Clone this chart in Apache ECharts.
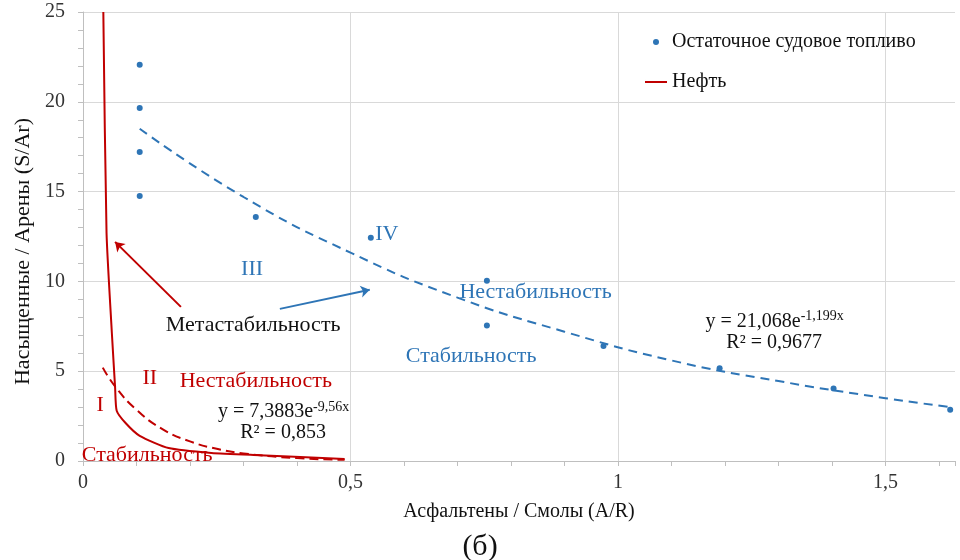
<!DOCTYPE html>
<html>
<head>
<meta charset="utf-8">
<script src="https://cdn.jsdelivr.net/npm/echarts@6/dist/echarts.min.js"></script>
<style>html,body{margin:0;padding:0;background:#fff}#c{width:960px;height:560px}</style>
</head>
<body>
<div id="c"></div>
<script>
// ---- data ----
const fuelX = [0.106, 0.106, 0.106, 0.106, 0.323, 0.538, 0.755, 0.755, 0.973, 1.19, 1.403, 1.621];
const fuelY = [22.06, 19.66, 17.2, 14.75, 13.58, 12.43, 10.03, 7.54, 6.41, 5.17, 4.03, 2.86];
const fuelTrendX = [0.106, 0.3, 0.5, 0.7, 0.9, 1.1, 1.3, 1.5, 1.621];
const fuelTrendY = [18.5, 14.7, 11.6, 9.1, 7.2, 5.6, 4.45, 3.5, 3.0];
const oilX = [0.038, 0.044, 0.054, 0.06, 0.063, 0.08, 0.106, 0.16, 0.24, 0.33, 0.489];
const oilY = [25, 12.7, 7.1, 4.1, 2.8, 2.1, 1.4, 0.72, 0.45, 0.32, 0.11];
const oilTrendX = [0.037, 0.06, 0.1, 0.15, 0.2, 0.25, 0.3, 0.4, 0.489];
const oilTrendY = [5.2, 4.15, 2.85, 1.75, 1.09, 0.68, 0.42, 0.16, 0.07];
const seriesNames = ['Остаточное судовое топливо', 'Нефть'];
const xTitle = 'Асфальтены / Смолы (A/R)';
const yTitle = 'Насыщенные / Арены (S/Ar)';
const caption = '(б)';

// annotations: [x, y, text, colourKey]
const notes = [
  [0.032, 3.12, 'I', 'red'],
  [0.125, 4.63, 'II', 'red'],
  [0.323, 4.46, 'Нестабильность', 'red'],
  [0.12, 0.33, 'Стабильность', 'red'],
  [0.318, 7.58, 'Метастабильность', 'black'],
  [0.316, 10.7, 'III', 'blue'],
  [0.568, 12.65, 'IV', 'blue'],
  [0.846, 9.42, 'Нестабильность', 'blue'],
  [0.7255, 5.85, 'Стабильность', 'blue']
];
const equations = [
  [0.375, 2.73, 'y = 7,3883e', '-9,56x'],
  [1.293, 7.75, 'y = 21,068e', '-1,199x']
];
const r2 = [
  [0.374, 1.56, 'R² = 0,853'],
  [1.292, 6.58, 'R² = 0,9677']
];
const arrows = [
  [[0.183, 8.58], [0.060, 12.2], 'red'],
  [[0.368, 8.47], [0.536, 9.53], 'blue']
];

const C = { red: '#C00000', blue: '#2E75B6', black: '#111' };
const FONT = '"Liberation Serif", "Times New Roman", serif';
const fmt = v => String(+v.toFixed(2)).replace('.', ',');
const noBorder = { textBorderWidth: 0, textBorderColor: 'transparent', textShadowBlur: 0 };

const chart = echarts.init(document.getElementById('c'), null, { renderer: 'canvas' });
chart.setOption({
  animation: false,
  backgroundColor: '#fff',
  textStyle: { fontFamily: FONT },
  grid: { left: 83, right: 5, top: 12, bottom: 99, containLabel: false },
  legend: {
    orient: 'vertical', left: 640, top: 27, itemGap: 20,
    itemWidth: 22, itemHeight: 6,
    textStyle: { fontFamily: FONT, fontSize: 20, color: '#111' },
    data: [
      { name: seriesNames[0], icon: 'circle' },
      { name: seriesNames[1], icon: 'path://M0,2H22V4H0Z M0,0H0.01V6H0Z' }
    ]
  },
  xAxis: {
    type: 'value', min: 0, max: 1.63, interval: 0.5,
    axisLine: { show: true, lineStyle: { color: '#bfbfbf', width: 1 } },
    axisTick: { show: true, length: 5, lineStyle: { color: '#bfbfbf' } },
    minorTick: { show: true, splitNumber: 5, length: 5, lineStyle: { color: '#bfbfbf' } },
    splitLine: { show: true, showMaxLine: false, lineStyle: { color: '#d9d9d9' } },
    axisLabel: { fontFamily: FONT, fontSize: 20, color: '#333', margin: 12, formatter: fmt, showMaxLabel: false },
    name: xTitle, nameLocation: 'middle', nameGap: 41,
    nameTextStyle: { fontFamily: FONT, fontSize: 20, color: '#111' }
  },
  yAxis: {
    type: 'value', min: 0, max: 25, interval: 5,
    axisLine: { show: true, lineStyle: { color: '#bfbfbf', width: 1 } },
    axisTick: { show: true, length: 5, lineStyle: { color: '#bfbfbf' } },
    minorTick: { show: true, splitNumber: 5, length: 5, lineStyle: { color: '#bfbfbf' } },
    splitLine: { show: true, lineStyle: { color: '#d9d9d9' } },
    axisLabel: { fontFamily: FONT, fontSize: 20, color: '#333', margin: 18, formatter: fmt },
    name: yTitle, nameLocation: 'middle', nameGap: 40, nameRotate: 90,
    nameTextStyle: { fontFamily: FONT, fontSize: 22, color: '#111', padding: [0, 30, 0, 0] }
  },
  graphic: [{
    type: 'text', left: 'center', top: 532,
    style: { text: caption, font: '30px ' + FONT, fill: '#111' },
    x: -37
  }],
  series: [
    {
      name: seriesNames[0], type: 'scatter', symbol: 'circle', symbolSize: 6,
      itemStyle: { color: C.blue, opacity: 1 }, z: 5,
      data: fuelX.map((x, i) => [x, fuelY[i]])
    },
    {
      name: seriesNames[1], type: 'line', symbol: 'none', smooth: 0.2,
      lineStyle: { color: C.red, width: 2 }, itemStyle: { color: C.red }, z: 4,
      data: oilX.map((x, i) => [x, oilY[i]])
    },
    {
      name: 'trend-fuel', type: 'line', symbol: 'none', smooth: true,
      lineStyle: { color: C.blue, width: 2, type: [9, 6] }, z: 3,
      data: fuelTrendX.map((x, i) => [x, fuelTrendY[i]])
    },
    {
      name: 'trend-oil', type: 'line', symbol: 'none', smooth: true,
      lineStyle: { color: C.red, width: 2, type: [9, 5] }, z: 3,
      data: oilTrendX.map((x, i) => [x, oilTrendY[i]])
    },
    {
      name: 'arrows', type: 'lines', coordinateSystem: 'cartesian2d', z: 6,
      symbol: ['none', 'arrow'], symbolSize: 9,
      data: arrows.map(a => ({ coords: [a[0], a[1]], lineStyle: { color: C[a[2]], width: 2 } })),
      lineStyle: { width: 2, opacity: 1 }
    },
    {
      name: 'notes', type: 'scatter', symbolSize: 0, z: 7, silent: true,
      itemStyle: { opacity: 1 },
      data: notes.map(n => ({
        value: [n[0], n[1]],
        label: Object.assign({ show: true, position: 'inside', formatter: n[2], color: C[n[3]], fontFamily: FONT, fontSize: 22 }, noBorder)
      }))
    },
    {
      name: 'eq', type: 'scatter', symbolSize: 0, z: 7, silent: true,
      itemStyle: { opacity: 1 },
      data: equations.map(e => ({
        value: [e[0], e[1]],
        label: Object.assign({
          show: true, position: 'inside',
          formatter: '{a|' + e[2] + '}{s|' + e[3] + '}',
          rich: {
            a: Object.assign({ fontFamily: FONT, fontSize: 20, color: '#111', lineHeight: 24 }, noBorder),
            s: Object.assign({ fontFamily: FONT, fontSize: 14, color: '#111', lineHeight: 14, verticalAlign: 'top', padding: [0, 0, 8, 0] }, noBorder)
          }
        }, noBorder)
      }))
    },
    {
      name: 'r2', type: 'scatter', symbolSize: 0, z: 7, silent: true,
      itemStyle: { opacity: 1 },
      data: r2.map(e => ({
        value: [e[0], e[1]],
        label: Object.assign({ show: true, position: 'inside', formatter: e[2], color: '#111', fontFamily: FONT, fontSize: 20 }, noBorder)
      }))
    }
  ]
});
</script>
</body>
</html>
